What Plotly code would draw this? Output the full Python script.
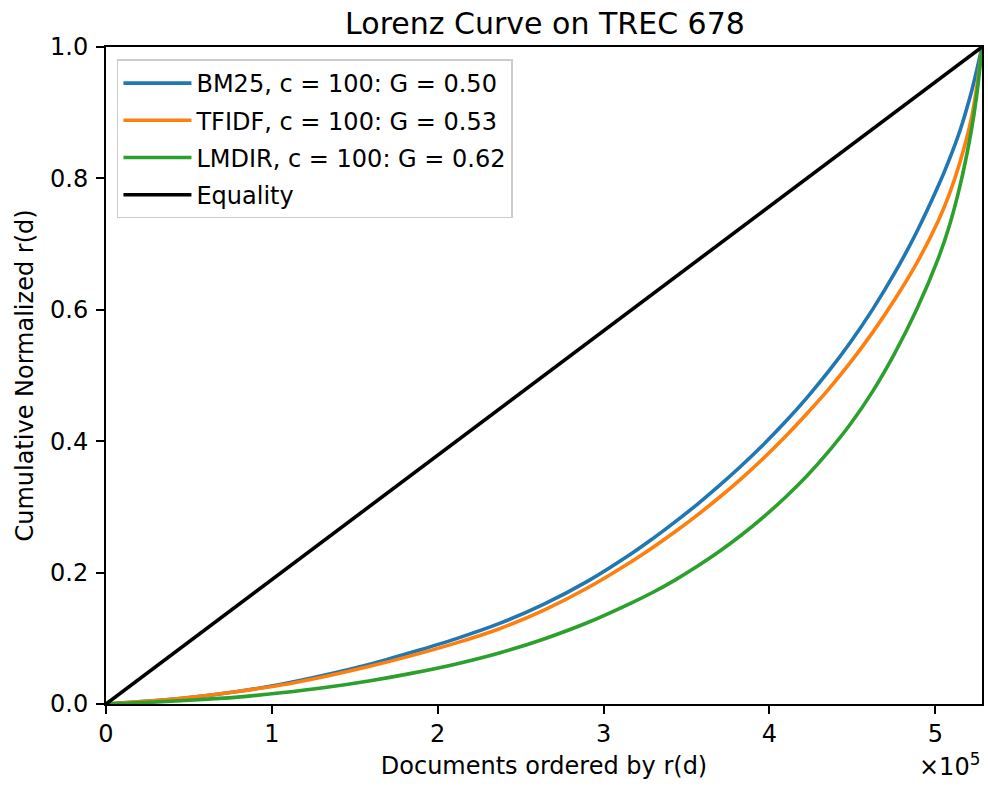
import plotly.graph_objects as go

# ---------------- data ----------------
N_DOCS = 528155

# document rank positions (documents ordered by r(d)) at which the curves were read
doc_position = [0, 26408, 52816, 79223, 105631, 132039, 158447, 184854, 211262,
                237670, 264078, 290485, 316893, 330097, 343301, 356505, 369709,
                382912, 396116, 409320, 422524, 435728, 448932, 462136, 475340,
                488543, 501747, 508349, 514951, 521553, 524854, 528155]

bm25_y = [0, 0.0045, 0.0105, 0.019, 0.030, 0.044, 0.060, 0.079, 0.0995,
          0.123, 0.152, 0.187, 0.229, 0.2525, 0.2775, 0.304, 0.3323,
          0.3623, 0.3943, 0.4288, 0.466, 0.5065, 0.551, 0.6003, 0.6553,
          0.7173, 0.7883, 0.8283, 0.8733, 0.9296, 0.9634, 1.0]

tfidf_y = [0, 0.0045, 0.0105, 0.019, 0.029, 0.042, 0.057, 0.074, 0.093,
           0.115, 0.143, 0.177, 0.217, 0.239, 0.2625, 0.2875, 0.3143,
           0.3428, 0.3733, 0.4063, 0.4418, 0.4793, 0.5203, 0.5653, 0.6148,
           0.6698, 0.7353, 0.7753, 0.8253, 0.889, 0.9365, 1.0]

lmdir_y = [0, 0.0025, 0.006, 0.0105, 0.017, 0.025, 0.035, 0.047, 0.061,
           0.078, 0.099, 0.124, 0.154, 0.1705, 0.189, 0.2095, 0.232,
           0.2568, 0.284, 0.314, 0.347, 0.3845, 0.4265, 0.4755, 0.533,
           0.5993, 0.678, 0.7268, 0.7893, 0.8705, 0.9243, 1.0]

equality_x = [0, N_DOCS]
equality_y = [0, 1]

series_names = ["BM25, c = 100: G = 0.50",
                "TFIDF, c = 100: G = 0.53",
                "LMDIR, c = 100: G = 0.62",
                "Equality"]
series_colors = ["#1f77b4", "#ff7f0e", "#2ca02c", "#000000"]

x_tick_vals = [0, 100000, 200000, 300000, 400000, 500000]
x_tick_text = ["0", "1", "2", "3", "4", "5"]
y_tick_vals = [0.0, 0.2, 0.4, 0.6, 0.8, 1.0]

title_text = "Lorenz Curve on TREC 678"
x_label = "Documents ordered by r(d)"
y_label = "Cumulative Normalized r(d)"
offset_text = "×10<sup>5</sup>"

# ---------------- figure ----------------
FONT = "DejaVu Sans"
fig = go.Figure()

all_x = [doc_position, doc_position, doc_position, equality_x]
all_y = [bm25_y, tfidf_y, lmdir_y, equality_y]
for i, (xs, ys) in enumerate(zip(all_x, all_y)):
    fig.add_trace(go.Scatter(
        x=xs, y=ys, mode="lines", name=series_names[i],
        line=dict(color=series_colors[i], width=3.6,
                  shape="spline" if i < 3 else "linear", smoothing=1.0),
        legendgroup=f"g{i}",
    ))

axis_common = dict(
    showgrid=False, zeroline=False,
    showline=True, linecolor="black", linewidth=2, mirror=True,
    ticks="outside", ticklen=8, tickwidth=2, tickcolor="black",
    tickfont=dict(family=FONT, size=24, color="black"),
)

fig.update_xaxes(
    range=[0, N_DOCS], tickvals=x_tick_vals, ticktext=x_tick_text,
    ticklabelstandoff=-1,
    title=dict(text=x_label, font=dict(family=FONT, size=24, color="black"), standoff=10),
    **axis_common,
)
fig.update_yaxes(
    range=[0, 1], tickvals=y_tick_vals, tickformat=".1f",
    ticklabelstandoff=3,
    title=dict(text=y_label, font=dict(family=FONT, size=24, color="black"), standoff=10),
    **axis_common,
)

fig.add_annotation(
    text=offset_text, xref="paper", yref="paper", x=1.0, y=-0.066,
    xanchor="right", yanchor="top", showarrow=False,
    font=dict(family=FONT, size=24, color="black"),
)

fig.update_layout(
    width=988, height=787,
    margin=dict(l=106, r=4, t=47, b=83),
    paper_bgcolor="white", plot_bgcolor="white",
    font=dict(family=FONT, size=24, color="black"),
    title=dict(text=title_text, x=(106 + 984) / 2 / 988, xanchor="center",
               y=1 - 23 / 787, yanchor="middle", yref="container",
               font=dict(family=FONT, size=30, color="black")),
    legend=dict(
        x=0.0125, y=0.981, xanchor="left", yanchor="top",
        bgcolor="rgba(255,255,255,0.8)", bordercolor="#cccccc", borderwidth=1.5,
        font=dict(family=FONT, size=24, color="black"),
        tracegroupgap=3, itemwidth=68,
    ),
    showlegend=True,
)

fig.write_html("out.html", config={"displayModeBar": False},
               post_script="document.body.style.margin='0px';")
